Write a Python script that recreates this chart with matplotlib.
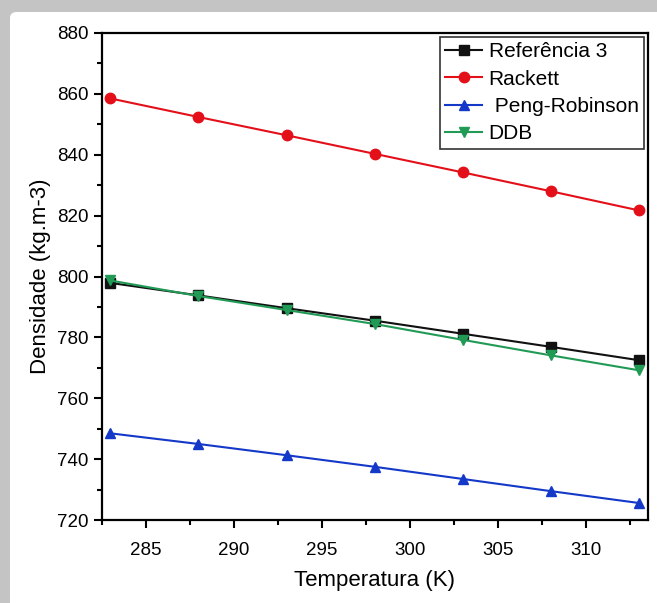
import matplotlib.pyplot as plt
import matplotlib.patches as mpatches
from matplotlib.ticker import MultipleLocator

plt.rcParams['font.family'] = ['Liberation Sans', 'DejaVu Sans']

# DATA
temperatura = [283, 288, 293, 298, 303, 308, 313]
referencia3 = [797.9, 793.8, 789.6, 785.5, 781.2, 776.9, 772.5]
rackett = [858.5, 852.4, 846.4, 840.3, 834.2, 828.0, 821.7]
peng_robinson = [748.5, 745.0, 741.3, 737.5, 733.5, 729.5, 725.6]
ddb = [798.7, 793.6, 789.0, 784.4, 779.2, 774.1, 769.2]

series = [
    ("Referência 3", referencia3, "#111111", "s", 6.5),
    ("Rackett", rackett, "#e3101a", "o", 7.5),
    (" Peng-Robinson", peng_robinson, "#1438c8", "^", 7.5),
    ("DDB", ddb, "#219a55", "v", 7.5),
]

fig = plt.figure(figsize=(6.57, 6.03), dpi=100)
fig.patch.set_facecolor("#c4c4c4")

# white panel of the screenshot
panel = mpatches.FancyBboxPatch((10 / 657, -0.02), 1.0, 591 / 603 + 0.02,
                                boxstyle="round,pad=0,rounding_size=0.01",
                                transform=fig.transFigure, facecolor="white",
                                edgecolor="none", zorder=-10)
fig.patches.append(panel)

ax = fig.add_axes([0.1545, 0.1375, 0.8318, 0.8078])
ax.set_zorder(1)

for name, vals, color, marker, ms in series:
    ax.plot(temperatura, vals, color=color, lw=1.5, marker=marker, ms=ms,
            markerfacecolor=color, markeredgecolor=color, label=name)

ax.set_xlim(282.5, 313.5)
ax.set_ylim(720, 880)
ax.xaxis.set_major_locator(MultipleLocator(5))
ax.xaxis.set_minor_locator(MultipleLocator(2.5))
ax.yaxis.set_major_locator(MultipleLocator(20))
ax.yaxis.set_minor_locator(MultipleLocator(10))

ax.tick_params(which='major', direction='out', length=6, width=1.5, labelsize=13.5)
ax.tick_params(which='minor', direction='out', length=3.5, width=1.5)
ax.tick_params(axis='x', which='major', pad=10)
for s in ax.spines.values():
    s.set_linewidth(1.6)

ax.set_xlabel("Temperatura (K)", fontsize=16, labelpad=8)
ax.set_ylabel("Densidade (kg.m-3)", fontsize=16, labelpad=4)

leg = ax.legend(loc='upper right', fontsize=15, frameon=True, fancybox=False,
                edgecolor='black', handlelength=1.8, handletextpad=0.3,
                labelspacing=0.4, borderpad=0.25, borderaxespad=0.2)
leg.get_frame().set_linewidth(1.2)

fig.savefig("out.png", dpi=100, facecolor=fig.get_facecolor())
